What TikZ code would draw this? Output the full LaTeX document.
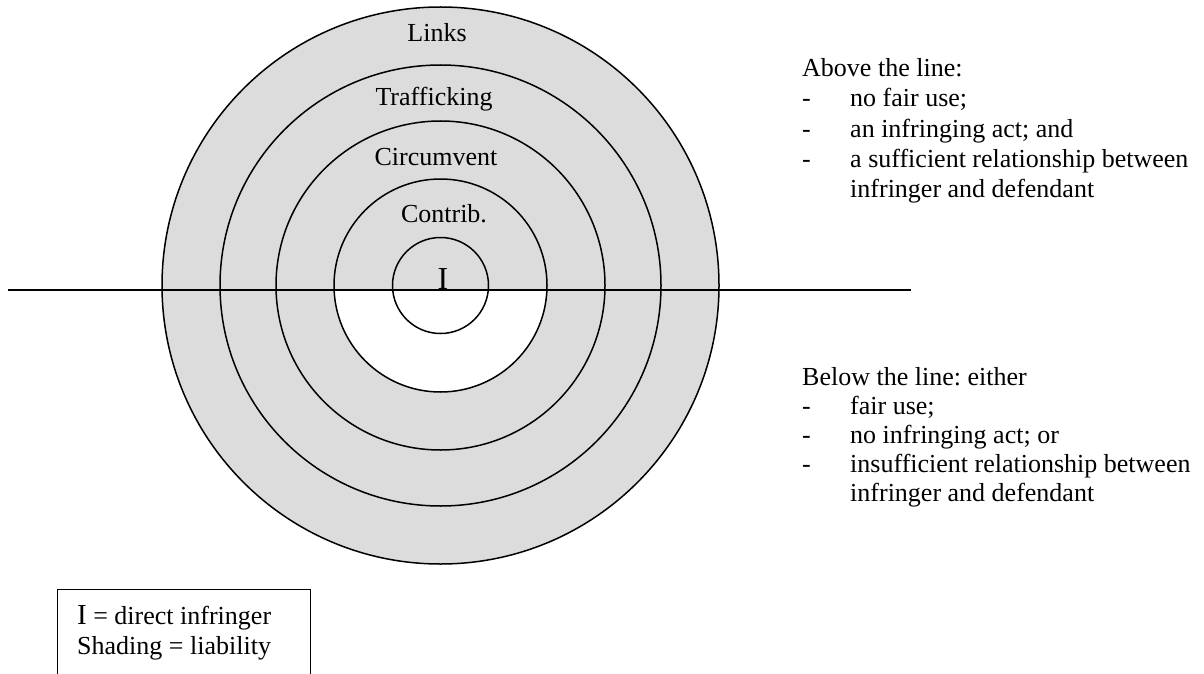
\documentclass[tikz,border=0pt]{standalone}
\usepackage{fontspec}
\setmainfont{Liberation Serif}
\definecolor{shade}{RGB}{220,220,220}
\frenchspacing
\begin{document}
\begin{tikzpicture}[x=1pt,y=-1pt,
  ring/.style={circle,draw=black,line width=1.5pt,inner sep=0pt,outer sep=0pt},
  lbl/.style={inner sep=0pt,anchor=base,font=\fontsize{26}{30}\selectfont},
  txt/.style={inner sep=0pt,anchor=base west,font=\fontsize{26}{30}\selectfont},
  divider/.style={line width=1.4pt}]
\useasboundingbox (0,0) rectangle (1204,674);
\coordinate (ctr) at (440.5,285.5);
% outer ring, shaded
\node[ring,fill=shade,minimum size=557pt] (c1) at (ctr) {};
% unshaded lower half of the Contrib. circle
\begin{scope}
  \clip (0,290) rectangle (1204,674);
  \fill[white] (ctr) circle (106.5);
\end{scope}
\node[ring,minimum size=441pt] (c2) at (ctr) {};
\node[ring,minimum size=329pt] (c3) at (ctr) {};
\node[ring,minimum size=213pt] (c4) at (ctr) {};
\node[ring,minimum size=96pt] (c5) at (ctr) {};
% horizontal line
\coordinate (lineL) at (8,290);
\coordinate (lineR) at (911,290);
\draw[divider] (lineL) -- (lineR);
% ring labels
\node[lbl] (links) at (437,42) {Links};
\node[lbl] (traff) at (434,106) {Trafficking};
\node[lbl] (circ) at (436,165) {Circumvent};
\node[lbl] (contrib) at (444,222.5) {Contrib.};
\node[inner sep=0pt,anchor=base,font=\fontsize{32}{32}\selectfont] (dI) at (443,289) {I};
% above the line
\node[txt] (a0) at (802,77) {Above the line:};
\node[txt] (a1) at (802,107) {\makebox[48pt][l]{-}no fair use;};
\node[txt] (a2) at (802,137) {\makebox[48pt][l]{-}an infringing act; and};
\node[txt] (a3) at (802,167) {\makebox[48pt][l]{-}a sufficient relationship between};
\node[txt] (a4) at (850,197) {infringer and defendant};
% below the line
\node[txt] (b0) at (802,385) {Below the line: either};
\node[txt] (b1) at (802,414) {\makebox[48pt][l]{-}fair use;};
\node[txt] (b2) at (802,443) {\makebox[48pt][l]{-}no infringing act; or};
\node[txt] (b3) at (802,472) {\makebox[48pt][l]{-}insufficient relationship between};
\node[txt] (b4) at (850,501) {infringer and defendant};
% legend
\node[draw=black,line width=1.4pt,inner sep=0pt,minimum width=253pt,minimum height=110pt,anchor=north west] (legend) at (57,589) {};
\node[txt] (l1) at (77,624) {{\fontsize{29}{30}\selectfont I} = direct infringer};
\node[txt] (l2) at (77,654) {Shading = liability};
\end{tikzpicture}
\end{document}
